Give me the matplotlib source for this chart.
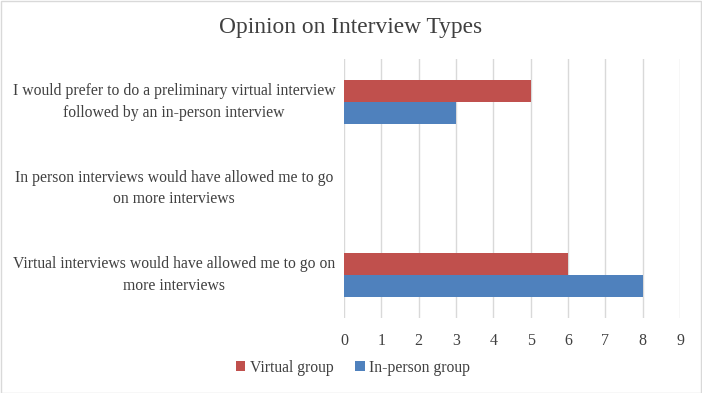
import matplotlib.pyplot as plt
import numpy as np
from matplotlib.patches import Rectangle
import matplotlib.transforms as mtransforms

# Data (top to bottom as shown)
categories = [
    "I would prefer to do a preliminary virtual interview\nfollowed by an in-person interview",
    "In person interviews would have allowed me to go\non more interviews",
    "Virtual interviews would have allowed me to go on\nmore interviews",
]
virtual_group = [5, 0, 6]
in_person_group = [3, 0, 8]
x_ticks = list(range(0, 10))

plt.rcParams["font.family"] = ["Liberation Serif", "DejaVu Serif"]
text_color = "#404040"

fig = plt.figure(figsize=(7.02, 3.93), dpi=100)
ax = fig.add_axes([0.490, 0.1908, 0.4787, 0.6591])

y = np.arange(len(categories))
bar_h = 0.256

ax.barh(y - bar_h / 2, virtual_group, height=bar_h, color="#C0504D", label="Virtual group")
ax.barh(y + bar_h / 2, in_person_group, height=bar_h, color="#4F81BD", label="In-person group")

ax.set_ylim(len(categories) - 0.5, -0.5)
ax.set_xlim(0, 9)
ax.set_xticks(x_ticks)
ax.set_xticklabels([str(t) for t in x_ticks], fontsize=11.5, color=text_color)
ax.tick_params(axis="x", length=0, pad=11)
ax.set_yticks([])
ax.xaxis.grid(True, color="#D9D9D9", linewidth=1)
ax.set_axisbelow(True)
for s in ax.spines.values():
    s.set_visible(False)

# category labels, centered as Excel does
trans = mtransforms.blended_transform_factory(fig.transFigure, ax.transData)
for yi, lab in zip(y, categories):
    ax.text(174 / 702, yi, lab, transform=trans, ha="center", va="center",
            multialignment="center", fontsize=11.3, color=text_color, linespacing=1.45)

fig.text(0.5, 1 - 28 / 393, "Opinion on Interview Types", ha="center", va="center",
         fontsize=16.8, color=text_color)

ax.legend(loc="center", bbox_to_anchor=(353 / 702, 1 - 368 / 393), bbox_transform=fig.transFigure,
          ncol=2, frameon=False, fontsize=11.3, handlelength=0.6, handleheight=0.6,
          handletextpad=0.3, columnspacing=1.4, labelcolor=text_color)

# light border round the chart
fig.patches.append(Rectangle((0.001, 0.001), 0.997, 0.997, transform=fig.transFigure,
                             fill=False, edgecolor="#D9D9D9", linewidth=1))

plt.savefig("out.png", dpi=100)
